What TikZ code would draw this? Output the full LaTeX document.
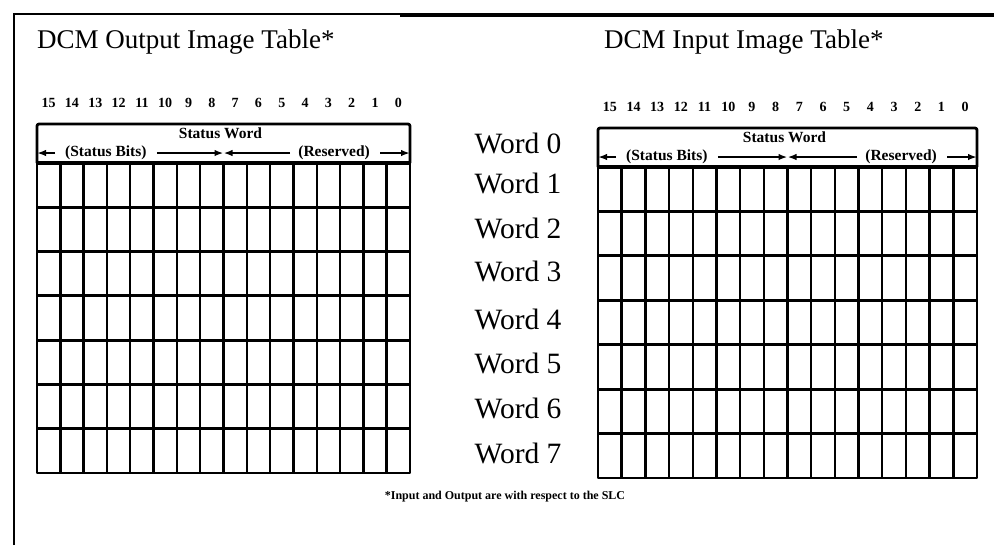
\documentclass[tikz,border=0pt]{standalone}
\usepackage{fontspec}
\setmainfont{Liberation Serif}
\usetikzlibrary{arrows.meta}
\tikzset{
  tabline/.style={line width=2.8pt, line join=round},
  hline/.style={line width=3.2pt},
  colline/.style={line width=2.4pt},
  rowline/.style={line width=2.8pt},
  bitnum/.style={font=\fontsize{14}{14}\selectfont\bfseries, inner sep=0pt},
  hdr/.style={font=\fontsize{15.5}{16}\selectfont\bfseries, inner sep=0pt},
  title/.style={font=\fontsize{27}{28}\selectfont, inner sep=0pt, anchor=west},
  wordlbl/.style={font=\fontsize{29.5}{30}\selectfont, inner sep=0pt},
  note/.style={font=\fontsize{12}{12}\selectfont\bfseries, inner sep=0pt},
  arr/.style={line width=1.8pt, -{Latex[length=9pt,width=6.5pt]}},
}
\newcommand\dcmtable[6]{%
  \pgfmathsetmacro\cw{(#2-#1)/16}%
  \pgfmathsetmacro\rh{(#5-#4)/7}%
  \draw[tabline, rounded corners=2pt] (#1,#4) -- (#1,#3) -- (#2,#3) -- (#2,#4);
  \draw[tabline] (#1,#4) rectangle (#2,#5);
  \draw[hline] (#1,#4) -- (#2,#4);
  \foreach \i in {1,...,15} \draw[colline] ({#1+\i*\cw},#4) -- ({#1+\i*\cw},#5);
  \foreach \j in {1,...,6} \draw[rowline] (#1,{#4+\j*\rh}) -- (#2,{#4+\j*\rh});
  \foreach \i in {0,...,15} {\pgfmathtruncatemacro\bb{15-\i}
    \node[bitnum] (#6b\bb) at ({#1+(\i+0.5)*\cw},#3-21) {\bb};}
  \node[hdr] (#6sw) at ({(#1+#2)/2-3},#3+9) {Status Word};
  \node[hdr, anchor=west] (#6sb) at (#1+28,#4-10) {(Status Bits)};
  \node[hdr, anchor=east] (#6rs) at (#2-40,#4-10) {(Reserved)};
  \coordinate (#6l) at (#1,#4-10);
  \coordinate (#6m) at ({#1+8*\cw},#4-10);
  \coordinate (#6r) at (#2,#4-10);
  \draw[arr] ([xshift=-10pt]#6sb.west) -- (#6l);
  \draw[arr] ([xshift=10pt]#6sb.east) -- (#6m);
  \draw[arr] ([xshift=-8pt]#6rs.west) -- (#6m);
  \draw[arr] ([xshift=10pt]#6rs.east) -- (#6r);
}
\begin{document}
\begin{tikzpicture}[x=1pt,y=-1pt]
\useasboundingbox (0,0) rectangle (994,558);
% frame
\draw[line width=2.8pt] (14,545) -- (14,14) -- (420,14);
\draw[line width=4.2pt] (400,14.6) -- (994,14.6);
% titles
\node[title] (tout) at (37,42) {DCM Output Image Table*};
\node[title] (tin) at (604,42) {DCM Input Image Table*};
% tables
\dcmtable{37}{410}{124}{163}{473}{L}
\dcmtable{598}{977}{128}{167}{478}{R}
% word labels
\foreach \w/\yy in {0/143,1/183,2/228,3/271,4/319,5/363,6/408,7/453}
  \node[wordlbl] (w\w) at (518,\yy) {Word \w};
% footnote
\node[note] (fn) at (505,497) {*Input and Output are with respect to the SLC};
\end{tikzpicture}
\end{document}
